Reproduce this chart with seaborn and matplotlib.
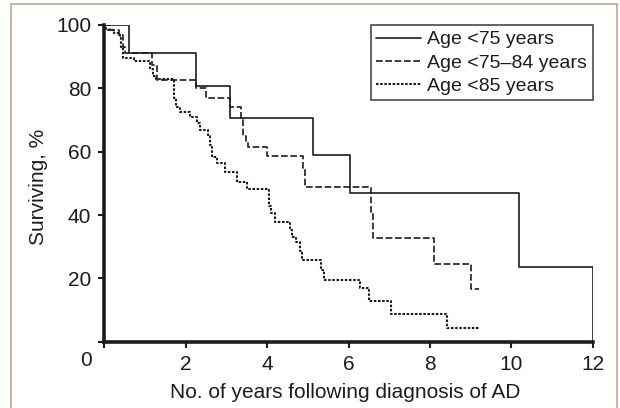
import numpy as np
import pandas as pd
import matplotlib
matplotlib.use("Agg")
import matplotlib.pyplot as plt
from matplotlib.patches import Rectangle
import seaborn as sns

# ---- data ----
groups = ["Age <75 years", "Age <75\u201384 years", "Age <85 years"]

years_lt75 = [0, 0.61, 2.25, 3.09, 5.14, 6.04, 10.2, 12.0]
surv_lt75 = [100, 91.1, 80.6, 70.6, 59.0, 47.0, 23.6, 0]

years_75_84 = [0, 0.15, 0.35, 0.45, 0.5, 1.16, 1.3, 2.25, 2.49, 3.09, 3.35, 3.42,
               3.48, 3.54, 4.0, 4.88, 4.93, 6.55, 6.6, 8.11, 9.01, 9.2]
surv_75_84 = [100, 98.5, 97, 93, 91.1, 87.5, 82.6, 80, 77.1, 74.2, 70.5, 65,
              63, 61.6, 58.6, 54.2, 48.9, 41, 32.6, 24.5, 16.5, 16.5]

years_ge85 = [0, 0.05, 0.25, 0.38, 0.42, 0.45, 0.72, 1.12, 1.2, 1.28, 1.67, 1.72,
              1.76, 1.86, 2.1, 2.27, 2.35, 2.55, 2.6, 2.64, 2.76, 2.97, 3.25, 3.5,
              4.05, 4.1, 4.2, 4.56, 4.62, 4.7, 4.81, 4.86, 5.32, 5.4, 6.28, 6.51,
              7.04, 8.43, 9.23]
surv_ge85 = [100, 98.5, 97.5, 96, 93, 89.7, 88.6, 86, 84, 83, 83, 77,
             74.2, 72.6, 71, 69, 66.8, 65, 62, 58.4, 56.3, 53.7, 50.5, 48.1,
             43, 40.5, 37.9, 35.3, 33, 31.6, 28.5, 25.8, 22.6, 19.5, 16.9, 12.9,
             8.7, 4.4, 4.4]

x_ticks = [0, 2, 4, 6, 8, 10, 12]
y_ticks = [0, 20, 40, 60, 80, 100]

df = pd.concat([
    pd.DataFrame({"years": years_lt75, "surv": surv_lt75, "group": groups[0]}),
    pd.DataFrame({"years": years_75_84, "surv": surv_75_84, "group": groups[1]}),
    pd.DataFrame({"years": years_ge85, "surv": surv_ge85, "group": groups[2]}),
], ignore_index=True)

sns.set_style("ticks")
plt.rcParams["font.family"] = ["Liberation Sans", "DejaVu Sans"]

W, H = 620, 408
fig = plt.figure(figsize=(W / 100, H / 100), dpi=100)
x0, x1, y0, y1 = 104.3, 592.7, 341.7, 25.0
ax = fig.add_axes([x0 / W, 1 - y0 / H, (x1 - x0) / W, (y0 - y1) / H])

ink = "#1c1c1c"
sns.lineplot(data=df, x="years", y="surv", style="group", style_order=groups,
             dashes={groups[0]: "", groups[1]: (4.0, 1.6), groups[2]: (1.2, 0.8)},
             color=ink, drawstyle="steps-post", estimator=None, sort=False,
             legend=False, ax=ax, linewidth=1.2)

lines = ax.get_lines()[:3]
lines[0].set_linewidth(1.2)
lines[1].set_linewidth(1.2)
lines[2].set_linewidth(1.5)

ax.set_xlim(0, 12)
ax.set_ylim(0, 100)
ax.set_xticks(x_ticks)
ax.set_xticklabels([""] + [str(v) for v in x_ticks[1:]])
ax.set_yticks(y_ticks)
ax.set_yticklabels([""] + [str(v) for v in y_ticks[1:]])
ax.tick_params(direction="out", length=4, width=1.5, labelsize=15, pad=5.5,
               colors=ink)

sns.despine(ax=ax)
for s in ("left", "bottom"):
    ax.spines[s].set_linewidth(2.6)
    ax.spines[s].set_color(ink)

ax.set_xlabel("No. of years following diagnosis of AD", fontsize=15, color=ink)
ax.set_ylabel("Surviving, %", fontsize=15, color=ink)
ax.xaxis.set_label_coords((345.0 - x0) / (x1 - x0), -(383 - y0) / (y0 - y1))
ax.yaxis.set_label_coords(-(x0 - 48) / (x1 - x0), (y0 - 186.5) / (y0 - y1))

# shared origin label
fig.text(86 / W, 1 - 361 / H, "0", fontsize=15, color=ink, ha="center", va="center")

leg = ax.legend(lines, groups, loc="upper right", bbox_to_anchor=(1.0, 1.0),
                borderaxespad=0, fontsize=14, handlelength=2.3, handletextpad=0.3,
                labelspacing=0.28, borderpad=0.3, frameon=True, fancybox=False,
                edgecolor=ink)
leg.get_frame().set_linewidth(1.2)
for t in leg.get_texts():
    t.set_color(ink)

# thin outer frame of the figure panel
fig.patches.append(Rectangle((10.5 / W, -0.1), (616.7 - 10.5) / W, (H - 4) / H + 0.1,
                             transform=fig.transFigure, fill=False,
                             edgecolor="#caa48e", linewidth=1.2))

fig.savefig("out.png", dpi=100)
